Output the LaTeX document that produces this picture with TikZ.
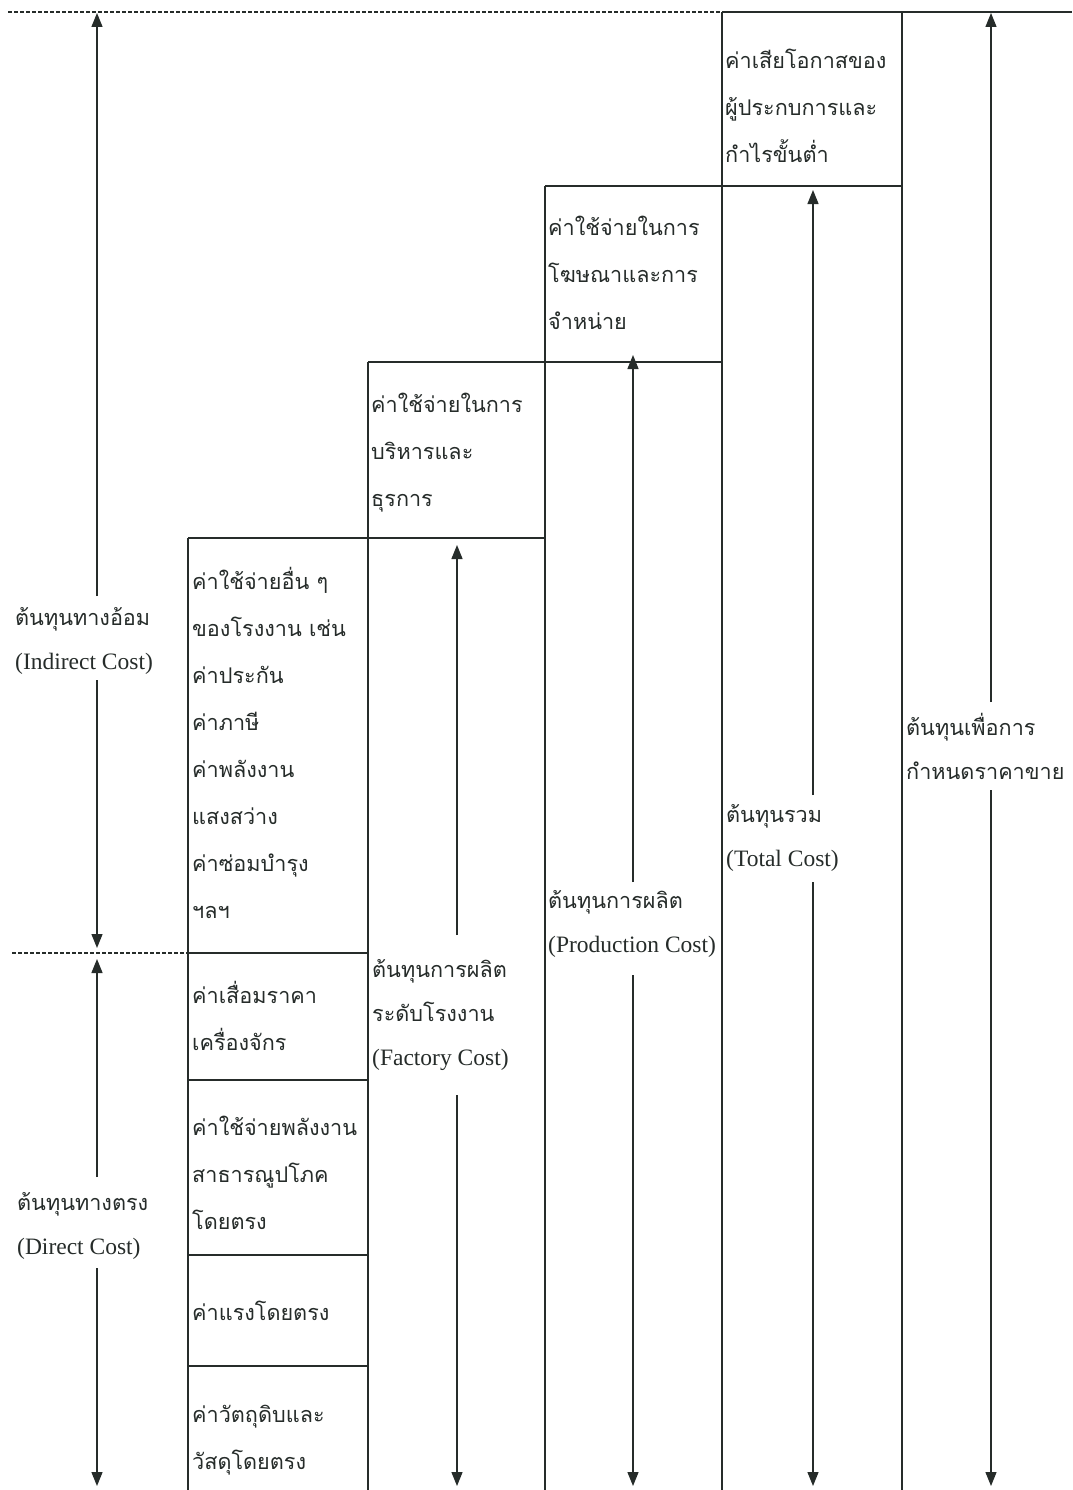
\documentclass[tikz,border=0pt]{standalone}
\usepackage{fontspec}
\setmainfont{Liberation Serif}
\newfontfamily\thai[Script=Thai,Scale=0.92]{Loma}
\usetikzlibrary{arrows.meta}
\definecolor{ink}{RGB}{38,44,42}
\newcommand\lstrut{\rule{0pt}{32pt}}
\tikzset{
  boxline/.style={draw=ink, line width=1.3pt},
  dashline/.style={draw=ink, line width=1.4pt, dash pattern=on 4pt off 2pt},
  arr/.style={draw=ink, line width=1.3pt, -{Triangle[length=14pt,width=11pt]}},
  boxtext/.style={anchor=north west, inner sep=0pt, align=left, text=ink, font=\fontsize{23.5}{47}\selectfont\thai},
  lbl/.style={anchor=north west, inner sep=0pt, align=left, text=ink, font=\fontsize{23.5}{44}\selectfont},
}
\begin{document}
\begin{tikzpicture}[x=1pt,y=-1pt]
\useasboundingbox[fill=white] (0,0) rectangle (1072,1490);

% dashed reference lines
\draw[dashline] (8,12) -- (722,12);
\draw[dashline] (12,953) -- (188,953);
\draw[boxline] (722,12) -- (1072,12);

% vertical column lines
\draw[boxline] (188,538) -- (188,1490);
\draw[boxline] (368,362) -- (368,1490);
\draw[boxline] (545,186) -- (545,1490);
\draw[boxline] (722,12) -- (722,1490);
\draw[boxline] (902,12) -- (902,1490);

% horizontal box lines
\draw[boxline] (545,186) -- (902,186);
\draw[boxline] (368,362) -- (722,362);
\draw[boxline] (188,538) -- (545,538);
\draw[boxline] (188,953) -- (368,953);
\draw[boxline] (188,1080) -- (368,1080);
\draw[boxline] (188,1255) -- (368,1255);
\draw[boxline] (188,1366) -- (368,1366);

% box texts
\node[boxtext] (boxE) at (725,36) {\lstrut ค่าเสียโอกาสของ\\ผู้ประกบการและ\\กำไรขั้นต่ำ};
\node[boxtext] (boxD) at (548,203) {\lstrut ค่าใช้จ่ายในการ\\โฆษณาและการ\\จำหน่าย};
\node[boxtext] (boxC) at (371,380) {\lstrut ค่าใช้จ่ายในการ\\บริหารและ\\ธุรการ};
\node[boxtext] (boxB1) at (192,557) {\lstrut ค่าใช้จ่ายอื่น ๆ\\ของโรงงาน เช่น\\ค่าประกัน\\ค่าภาษี\\ค่าพลังงาน\\แสงสว่าง\\ค่าซ่อมบำรุง\\ฯลฯ};
\node[boxtext] (boxB2) at (192,971) {\lstrut ค่าเสื่อมราคา\\เครื่องจักร};
\node[boxtext] (boxB3) at (192,1103) {\lstrut ค่าใช้จ่ายพลังงาน\\สาธารณูปโภค\\โดยตรง};
\node[boxtext] (boxB4) at (192,1288) {\lstrut ค่าแรงโดยตรง};
\node[boxtext] (boxB5) at (192,1390) {\lstrut ค่าวัตถุดิบและ\\วัสดุโดยตรง};

% labels
\node[lbl] (indirect) at (15,593) {\lstrut{\thai ต้นทุนทางอ้อม}\\(Indirect Cost)};
\node[lbl] (direct) at (17,1178) {\lstrut{\thai ต้นทุนทางตรง}\\(Direct Cost)};
\node[lbl] (factory) at (372,945) {\lstrut{\thai ต้นทุนการผลิต}\\{\thai ระดับโรงงาน}\\(Factory Cost)};
\node[lbl] (production) at (548,876) {\lstrut{\thai ต้นทุนการผลิต}\\(Production Cost)};
\node[lbl] (total) at (726,790) {\lstrut{\thai ต้นทุนรวม}\\(Total Cost)};
\node[lbl] (selling) at (906,703) {\lstrut{\thai ต้นทุนเพื่อการ}\\{\thai กำหนดราคาขาย}};

% arrow end points
\coordinate (a1s) at (97,596);  \coordinate (a1e) at (97,13);
\coordinate (a2s) at (97,680);  \coordinate (a2e) at (97,948);
\coordinate (a3s) at (97,1177); \coordinate (a3e) at (97,959);
\coordinate (a4s) at (97,1268); \coordinate (a4e) at (97,1486);
\coordinate (c1s) at (457,935); \coordinate (c1e) at (457,545);
\coordinate (c2s) at (457,1095); \coordinate (c2e) at (457,1486);
\coordinate (d1s) at (633,882); \coordinate (d1e) at (633,355);
\coordinate (d2s) at (633,975); \coordinate (d2e) at (633,1486);
\coordinate (e1s) at (813,795); \coordinate (e1e) at (813,190);
\coordinate (e2s) at (813,882); \coordinate (e2e) at (813,1486);
\coordinate (f1s) at (991,702); \coordinate (f1e) at (991,13);
\coordinate (f2s) at (991,790); \coordinate (f2e) at (991,1486);

\draw[arr] (a1s) -- (a1e);
\draw[arr] (a2s) -- (a2e);
\draw[arr] (a3s) -- (a3e);
\draw[arr] (a4s) -- (a4e);
\draw[arr] (c1s) -- (c1e);
\draw[arr] (c2s) -- (c2e);
\draw[arr] (d1s) -- (d1e);
\draw[arr] (d2s) -- (d2e);
\draw[arr] (e1s) -- (e1e);
\draw[arr] (e2s) -- (e2e);
\draw[arr] (f1s) -- (f1e);
\draw[arr] (f2s) -- (f2e);
\end{tikzpicture}
\end{document}
